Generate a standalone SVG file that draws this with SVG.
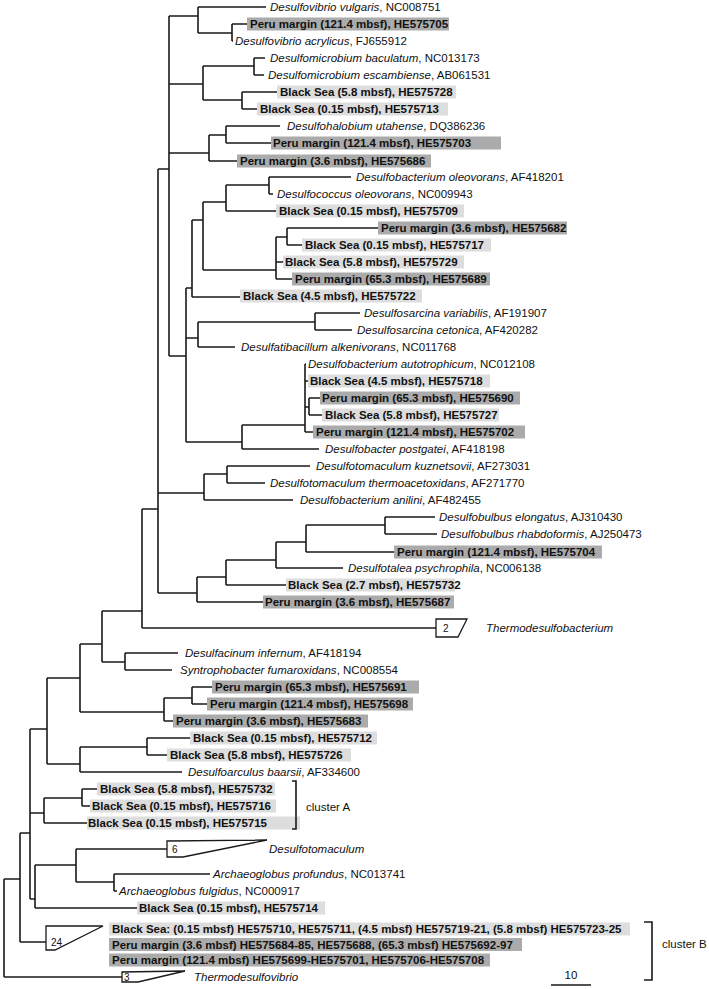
<svg xmlns="http://www.w3.org/2000/svg" width="709" height="989" viewBox="0 0 709 989">
<style>
text{font-family:"Liberation Sans",Arial,sans-serif;font-size:11.5px;fill:#111}
.b{font-weight:bold}
.i{font-style:italic}
.bs{fill:#dddddd}
.pm{fill:#ababab}
.br{fill:none;stroke:#1a1a1a;stroke-width:1.6}
.tri{fill:#fff;stroke:#1a1a1a;stroke-width:1.3}
.n{font-size:10px}
</style>
<rect width="709" height="989" fill="#fff"/>
<g id="connectors" class="br">
<path d="M4,879V977M4,879H20M4,977H122"/>
<path d="M20,833V942M20,833H30M20,942H46"/>
<path d="M30,729V899M30,729H47M30,813H44M30,899H35"/>
<path d="M35,865V908M35,865H76M35,908H137"/>
<path d="M76,849V882M76,849H167M76,882H114"/>
<path d="M114,874V891M114,874H210M114,891H117"/>
<path d="M44,798V823M44,798H82M44,823H87"/>
<path d="M82,789V806M82,789H97M82,806H90"/>
<path d="M47,678V764M47,678H80M47,764H80"/>
<path d="M80,747V772M80,747H147M80,772H182"/>
<path d="M147,738V755M147,738H190M147,755H167"/>
<path d="M80,644V712M80,644H102M80,712H164"/>
<path d="M164,698V721M164,698H192M164,721H173"/>
<path d="M192,687V704M192,687H212M192,704H207"/>
<path d="M102,611V662M102,611H142M102,662H125"/>
<path d="M125,653V670M125,653H178M125,670H172"/>
<path d="M142,509V628M142,509H158M142,628H436"/>
<path d="M158,169V593M158,169H169M158,493H204M158,593H197"/>
<path d="M204,474V500M204,474H227M204,500H293"/>
<path d="M227,466V483M227,466H310M227,483H265"/>
<path d="M197,577V602M197,577H226M197,602H263"/>
<path d="M226,560V585M226,560H276M226,585H286"/>
<path d="M276,542V568M276,542H306M276,568H343"/>
<path d="M306,525V552M306,525H385M306,552H394"/>
<path d="M385,517V534M385,517H435M385,534H437"/>
<path d="M169,16V356M169,16H198M169,84H203M169,153H209M169,356H186"/>
<path d="M198,7V33M198,7H266M198,33H232"/>
<path d="M232,24V41M232,24H248M232,41H233"/>
<path d="M203,66V100M203,66H254M203,100H242"/>
<path d="M254,58V75M254,58H265M254,75H264"/>
<path d="M242,92V109M242,92H277M242,109H257"/>
<path d="M209,135V161M209,135H226M209,161H237"/>
<path d="M226,126V143M226,126H280M226,143H271"/>
<path d="M186,288V442M186,288H192M186,338H198M186,442H242"/>
<path d="M192,220V297M192,220H203M192,297H240"/>
<path d="M203,202V270M203,202H226M203,270H276"/>
<path d="M226,185V211M226,185H269M226,211H276"/>
<path d="M269,177V194M269,177H351M269,194H273"/>
<path d="M276,237V279M276,237H287M276,262H283M276,279H292"/>
<path d="M287,228V245M287,228H378M287,245H302"/>
<path d="M198,322V347M198,322H315M198,347H235"/>
<path d="M315,313V330M315,313H360M315,330H352"/>
<path d="M242,425V449M242,425H305M242,449H319"/>
<path d="M305,364V432M305,364H306M305,381H308M305,407H309M305,432H313"/>
<path d="M309,398V415M309,398H320M309,415H322"/>
</g>
<g id="n1"><text x="270" y="11"><tspan class="i">Desulfovibrio vulgaris</tspan>, NC008751</text></g>
<g id="n2"><rect class="pm" x="247" y="17.5" width="202" height="13"/><text class="b" x="250" y="28">Peru margin (121.4 mbsf), HE575705</text></g>
<g id="n3"><text x="235" y="45"><tspan class="i">Desulfovibrio acrylicus</tspan>, FJ655912</text></g>
<g id="n4"><text x="270" y="62"><tspan class="i">Desulfomicrobium baculatum</tspan>, NC013173</text></g>
<g id="n5"><text x="268" y="79"><tspan class="i">Desulfomicrobium escambiense</tspan>, AB061531</text></g>
<g id="n6"><rect class="bs" x="277" y="85.5" width="179" height="13"/><text class="b" x="280" y="96">Black Sea (5.8 mbsf), HE575728</text></g>
<g id="n7"><rect class="bs" x="257" y="102.5" width="191" height="13"/><text class="b" x="260" y="113">Black Sea (0.15 mbsf), HE575713</text></g>
<g id="n8"><text x="287" y="130"><tspan class="i">Desulfohalobium utahense</tspan>, DQ386236</text></g>
<g id="n9"><rect class="pm" x="271" y="136.5" width="230" height="13"/><text class="b" x="273" y="147">Peru margin (121.4 mbsf), HE575703</text></g>
<g id="n10"><rect class="pm" x="237" y="154.5" width="194" height="13"/><text class="b" x="240" y="165">Peru margin (3.6 mbsf), HE575686</text></g>
<g id="n11"><text x="356" y="181"><tspan class="i">Desulfobacterium oleovorans</tspan>, AF418201</text></g>
<g id="n12"><text x="277" y="198"><tspan class="i">Desulfococcus oleovorans</tspan>, NC009943</text></g>
<g id="n13"><rect class="bs" x="276" y="204.5" width="188" height="13"/><text class="b" x="279" y="215">Black Sea (0.15 mbsf), HE575709</text></g>
<g id="n14"><rect class="pm" x="378" y="221.5" width="189" height="13"/><text class="b" x="381" y="232">Peru margin (3.6 mbsf), HE575682</text></g>
<g id="n15"><rect class="bs" x="302" y="238.5" width="189" height="13"/><text class="b" x="305" y="249">Black Sea (0.15 mbsf), HE575717</text></g>
<g id="n16"><rect class="bs" x="283" y="255.5" width="181" height="13"/><text class="b" x="285" y="266">Black Sea (5.8 mbsf), HE575729</text></g>
<g id="n17"><rect class="pm" x="292" y="272.5" width="198" height="13"/><text class="b" x="295" y="283">Peru margin (65.3 mbsf), HE575689</text></g>
<g id="n18"><rect class="bs" x="240" y="289.5" width="182" height="13"/><text class="b" x="243" y="300">Black Sea (4.5 mbsf), HE575722</text></g>
<g id="n19"><text x="364" y="317"><tspan class="i">Desulfosarcina variabilis</tspan>, AF191907</text></g>
<g id="n20"><text x="357" y="334"><tspan class="i">Desulfosarcina cetonica</tspan>, AF420282</text></g>
<g id="n21"><text x="241" y="351"><tspan class="i">Desulfatibacillum alkenivorans</tspan>, NC011768</text></g>
<g id="n22"><text x="308" y="368"><tspan class="i">Desulfobacterium autotrophicum</tspan>, NC012108</text></g>
<g id="n23"><rect class="bs" x="308" y="374.5" width="182" height="13"/><text class="b" x="310" y="385">Black Sea (4.5 mbsf), HE575718</text></g>
<g id="n24"><rect class="pm" x="320" y="391.5" width="200" height="13"/><text class="b" x="322" y="402">Peru margin (65.3 mbsf), HE575690</text></g>
<g id="n25"><rect class="bs" x="322" y="408.5" width="177" height="13"/><text class="b" x="325" y="419">Black Sea (5.8 mbsf), HE575727</text></g>
<g id="n26"><rect class="pm" x="313" y="425.5" width="212" height="13"/><text class="b" x="316" y="436">Peru margin (121.4 mbsf), HE575702</text></g>
<g id="n27"><text x="325" y="453"><tspan class="i">Desulfobacter postgatei</tspan>, AF418198</text></g>
<g id="n28"><text x="316" y="470"><tspan class="i">Desulfotomaculum kuznetsovii</tspan>, AF273031</text></g>
<g id="n29"><text x="270" y="487"><tspan class="i">Desulfotomaculum thermoacetoxidans</tspan>, AF271770</text></g>
<g id="n30"><text x="300" y="504"><tspan class="i">Desulfobacterium anilini</tspan>, AF482455</text></g>
<g id="n31"><text x="439" y="521"><tspan class="i">Desulfobulbus elongatus</tspan>, AJ310430</text></g>
<g id="n32"><text x="441" y="538"><tspan class="i">Desulfobulbus rhabdoformis</tspan>, AJ250473</text></g>
<g id="n33"><rect class="pm" x="394" y="545.5" width="208" height="13"/><text class="b" x="397" y="556">Peru margin (121.4 mbsf), HE575704</text></g>
<g id="n34"><text x="348" y="572"><tspan class="i">Desulfotalea psychrophila</tspan>, NC006138</text></g>
<g id="n35"><rect class="bs" x="286" y="578.5" width="169" height="13"/><text class="b" x="288" y="589">Black Sea (2.7 mbsf), HE575732</text></g>
<g id="n36"><rect class="pm" x="263" y="595.5" width="191" height="13"/><text class="b" x="265" y="606">Peru margin (3.6 mbsf), HE575687</text></g>
<g id="n37"><polygon class="tri" points="436,619 467,619 458,637 436,637"/><text class="n" x="443" y="632">2</text><text class="i" x="486" y="632">Thermodesulfobacterium</text></g>
<g id="n38"><text x="185" y="657"><tspan class="i">Desulfacinum infernum</tspan>, AF418194</text></g>
<g id="n39"><text x="180" y="674"><tspan class="i">Syntrophobacter fumaroxidans</tspan>, NC008554</text></g>
<g id="n40"><rect class="pm" x="212" y="680.5" width="207" height="13"/><text class="b" x="215" y="691">Peru margin (65.3 mbsf), HE575691</text></g>
<g id="n41"><rect class="pm" x="207" y="697.5" width="206" height="13"/><text class="b" x="210" y="708">Peru margin (121.4 mbsf), HE575698</text></g>
<g id="n42"><rect class="pm" x="173" y="714.5" width="195" height="13"/><text class="b" x="176" y="725">Peru margin (3.6 mbsf), HE575683</text></g>
<g id="n43"><rect class="bs" x="190" y="731.5" width="187" height="13"/><text class="b" x="193" y="742">Black Sea (0.15 mbsf), HE575712</text></g>
<g id="n44"><rect class="bs" x="167" y="748.5" width="184" height="13"/><text class="b" x="170" y="759">Black Sea (5.8 mbsf), HE575726</text></g>
<g id="n45"><text x="188" y="776"><tspan class="i">Desulfoarculus baarsii</tspan>, AF334600</text></g>
<g id="n46"><rect class="bs" x="97" y="782.5" width="178" height="13"/><text class="b" x="100" y="793">Black Sea (5.8 mbsf), HE575732</text></g>
<g id="n47"><rect class="bs" x="90" y="799.5" width="186" height="13"/><text class="b" x="92" y="810">Black Sea (0.15 mbsf), HE575716</text></g>
<g id="n48"><rect class="bs" x="87" y="816.5" width="213" height="13"/><text class="b" x="88" y="827">Black Sea (0.15 mbsf), HE575715</text></g>
<g id="clusterA"><path class="br" d="M292,781H296V829H292"/><text x="306" y="811">cluster A</text></g>
<g id="n49"><polygon class="tri" points="167,841 267,840 183,857 167,857"/><text class="n" x="172" y="853">6</text><text class="i" x="269" y="853">Desulfotomaculum</text></g>
<g id="n50"><text x="213" y="878"><tspan class="i">Archaeoglobus profundus</tspan>, NC013741</text></g>
<g id="n51"><text x="119" y="895"><tspan class="i">Archaeoglobus fulgidus</tspan>, NC000917</text></g>
<g id="n52"><rect class="bs" x="137" y="901.5" width="188" height="13"/><text class="b" x="139" y="912">Black Sea (0.15 mbsf), HE575714</text></g>
<g id="n53"><polygon class="tri" points="46,926 103,926 55,950 46,950"/><text class="n" x="51" y="946">24</text>
<rect class="bs" x="109" y="922.5" width="521" height="13"/><text class="b" x="112" y="933">Black Sea: (0.15 mbsf) HE575710, HE575711, (4.5 mbsf) HE575719-21, (5.8 mbsf) HE575723-25</text>
<rect class="pm" x="109" y="938" width="413" height="13"/><text class="b" x="112" y="948.5">Peru margin (3.6 mbsf) HE575684-85, HE575688, (65.3 mbsf) HE575692-97</text>
<rect class="pm" x="109" y="953.5" width="381" height="13"/><text class="b" x="112" y="964">Peru margin (121.4 mbsf) HE575699-HE575701, HE575706-HE575708</text></g>
<g id="clusterB"><path class="br" d="M644,922H652V980H644"/><text x="662" y="948">cluster B</text></g>
<g id="n56"><polygon class="tri" points="122,972 185,971 138,982 122,982"/><text class="n" x="124" y="981">3</text><text class="i" x="194" y="981">Thermodesulfovibrio</text></g>
<g id="scale"><path class="br" d="M551,985H591"/><text x="571" y="979" text-anchor="middle">10</text></g>
</svg>
